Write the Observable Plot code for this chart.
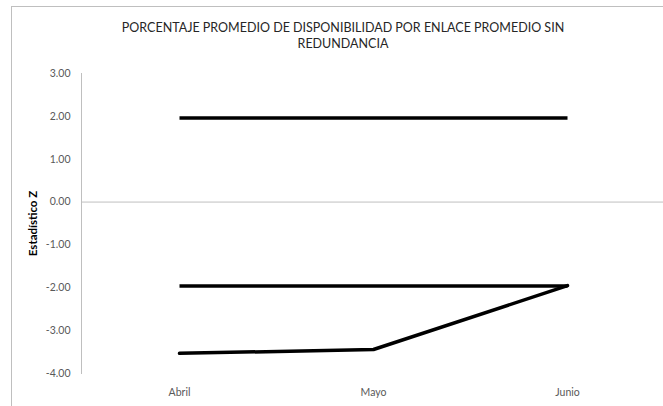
<!DOCTYPE html>
<html>
<head>
<meta charset="utf-8">
<script src="https://cdn.jsdelivr.net/npm/d3@7"></script>
<script src="https://cdn.jsdelivr.net/npm/@observablehq/plot@0.6"></script>
<style>
  html, body { margin: 0; padding: 0; background: #fff; }
  #wrap { position: relative; width: 663px; height: 406px; overflow: hidden; }
  #frame { position: absolute; left: 11px; top: 6px; width: 700px; height: 450px;
           border-left: 1px solid #bfbfbf; border-top: 1px solid #bfbfbf; box-sizing: border-box; }
  #title { position: absolute; left: 0; top: 20px; width: 686px; text-align: center;
           font-family: Lato, "Open Sans", sans-serif; font-size: 12.5px; line-height: 16px; color: #262626; }
  #chart { position: absolute; left: 0; top: 0; }
</style>
</head>
<body>
<div id="wrap">
  <div id="frame"></div>
  <div id="chart"></div>
  <div id="title">PORCENTAJE PROMEDIO DE DISPONIBILIDAD POR ENLACE PROMEDIO SIN<br>REDUNDANCIA</div>
</div>
<script>
const months = ["Abril", "Mayo", "Junio"];
const zValues = [-3.53, -3.44, -1.95];
const upperCritical = [1.96, 1.96, 1.96];
const lowerCritical = [-1.96, -1.96, -1.96];
const yTicks = [3, 2, 1, 0, -1, -2, -3, -4];
const yLabel = "Estadístico Z";

const series = months.map((m, i) => ({month: m, z: zValues[i]}));
const upper = months.map((m, i) => ({month: m, z: upperCritical[i]}));
const lower = months.map((m, i) => ({month: m, z: lowerCritical[i]}));

const font = 'Lato, "Open Sans", sans-serif';

const chart = Plot.plot({
  width: 663,
  height: 406,
  marginLeft: 81,
  marginRight: 0,
  marginTop: 73,
  marginBottom: 33,
  style: {fontFamily: font, fontSize: "10.5px", color: "#595959", background: "transparent"},
  x: {type: "point", domain: months, range: [178.5, 567.5], padding: 0, label: null},
  y: {domain: [-4, 3], label: null},
  marks: [
    Plot.frame({anchor: "left", stroke: "#bfbfbf"}),
    Plot.ruleY([0], {stroke: "#bfbfbf"}),
    Plot.axisY({ticks: yTicks, tickFormat: d => d.toFixed(2), tickSize: 0, tickPadding: 11, label: null, fill: "#595959"}),
    Plot.axisX({tickSize: 0, tickPadding: 15, label: null, fill: "#595959"}),
    Plot.text([yLabel], {frameAnchor: "left", textAnchor: "middle", dx: -48, rotate: -90, fontWeight: "bold", fontSize: 11.5, fill: "#000"}),
    Plot.line(upper, {x: "month", y: "z", stroke: "#000", strokeWidth: 3.5, strokeLinecap: "butt"}),
    Plot.line(lower, {x: "month", y: "z", stroke: "#000", strokeWidth: 3.5, strokeLinecap: "butt"}),
    Plot.line(series, {x: "month", y: "z", stroke: "#000", strokeWidth: 3.5, strokeLinecap: "round", strokeLinejoin: "round"})
  ]
});
document.getElementById("chart").appendChild(chart);
</script>
</body>
</html>
